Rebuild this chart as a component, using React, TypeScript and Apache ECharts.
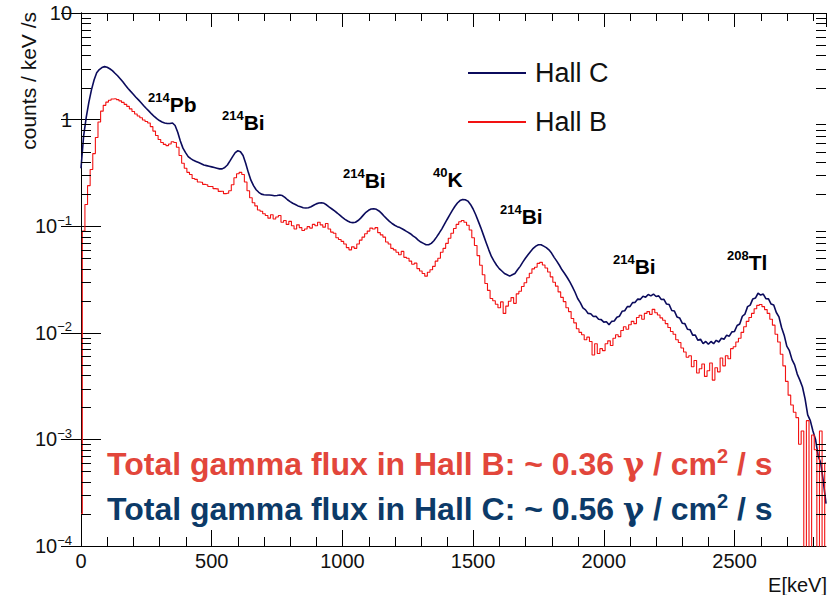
import { useEffect, useRef } from "react";
import * as echarts from "echarts";

// Gamma spectra, counts / keV / s, one value per 10 keV bin starting at 0 keV.
const BIN_KEV = 10;

const HALL_C: number[] = [
  0.35, 0.7, 1.05, 1.45, 1.9, 2.35, 2.75, 2.95, 3.08, 3.14,
  3.1, 3.0, 2.88, 2.72, 2.58, 2.42, 2.26, 2.1, 1.96, 1.84,
  1.73, 1.62, 1.53, 1.44, 1.35, 1.27, 1.2, 1.13, 1.07, 1.02,
  0.98, 0.95, 0.93, 0.92, 0.92, 0.93, 0.88, 0.76, 0.63, 0.54,
  0.49, 0.45, 0.43, 0.415, 0.405, 0.395, 0.385, 0.375, 0.37, 0.365,
  0.36, 0.355, 0.35, 0.345, 0.345, 0.355, 0.375, 0.41, 0.45, 0.49,
  0.51, 0.5, 0.46, 0.39, 0.32, 0.27, 0.24, 0.22, 0.208, 0.2,
  0.197, 0.196, 0.196, 0.195, 0.193, 0.194, 0.196, 0.194, 0.186, 0.177,
  0.17, 0.164, 0.16, 0.155, 0.152, 0.149, 0.148, 0.149, 0.152, 0.157,
  0.162, 0.165, 0.166, 0.164, 0.158, 0.151, 0.145, 0.139, 0.133, 0.127,
  0.121, 0.116, 0.112, 0.109, 0.108, 0.109, 0.113, 0.119, 0.127, 0.135,
  0.141, 0.145, 0.146, 0.144, 0.139, 0.132, 0.124, 0.117, 0.111, 0.106,
  0.102, 0.099, 0.097, 0.094, 0.091, 0.088, 0.085, 0.081, 0.078, 0.074,
  0.071, 0.069, 0.067, 0.067, 0.069, 0.073, 0.079, 0.086, 0.094, 0.104,
  0.115, 0.127, 0.14, 0.153, 0.165, 0.174, 0.178, 0.177, 0.172, 0.16,
  0.145, 0.128, 0.111, 0.096, 0.082, 0.07, 0.06, 0.052, 0.047, 0.043,
  0.04, 0.038, 0.036, 0.035, 0.034, 0.035, 0.036, 0.039, 0.042, 0.046,
  0.05, 0.054, 0.058, 0.062, 0.065, 0.067, 0.067, 0.065, 0.063, 0.06,
  0.056, 0.051, 0.047, 0.043, 0.039, 0.036, 0.033, 0.03, 0.027, 0.024,
  0.021, 0.0192, 0.0171, 0.0164, 0.0152, 0.0151, 0.0142, 0.0143, 0.0134, 0.0133,
  0.0126, 0.0127, 0.0119, 0.0128, 0.0129, 0.014, 0.0143, 0.0159, 0.0161, 0.0176,
  0.0176, 0.0192, 0.0193, 0.0207, 0.0206, 0.022, 0.0216, 0.0229, 0.0222, 0.0231,
  0.0219, 0.0222, 0.0205, 0.0206, 0.0186, 0.0184, 0.0162, 0.016, 0.0141, 0.0138,
  0.0123, 0.0122, 0.0108, 0.0107, 0.0095, 0.0095, 0.0085, 0.0087, 0.0079, 0.0083,
  0.0078, 0.0083, 0.0079, 0.0085, 0.0082, 0.0089, 0.0087, 0.0095, 0.0093, 0.0102,
  0.0103, 0.0117, 0.0121, 0.0143, 0.015, 0.0176, 0.0182, 0.0208, 0.0212, 0.0235,
  0.0226, 0.0231, 0.0209, 0.0208, 0.0186, 0.0182, 0.0155, 0.0141, 0.0112, 0.0095,
  0.0075, 0.0068, 0.0056, 0.005, 0.0041, 0.0036, 0.0031, 0.0024, 0.0017, 0.0015,
  0.0012, 0.001, 0.0007, 0.0006, 0.0004, 0.00025,
];

const HALL_B: number[] = [
  0.0002, 0.09, 0.16, 0.24, 0.34, 0.48, 0.68, 0.95, 1.2, 1.36,
  1.46, 1.52, 1.56, 1.57, 1.54, 1.5, 1.45, 1.39, 1.33, 1.26,
  1.19, 1.13, 1.08, 1.04, 0.99, 0.96, 0.93, 0.86, 0.78, 0.71,
  0.65, 0.61, 0.585, 0.57, 0.59, 0.62, 0.61, 0.55, 0.46, 0.39,
  0.35, 0.32, 0.305, 0.28, 0.275, 0.26, 0.258, 0.247, 0.245, 0.236,
  0.236, 0.225, 0.224, 0.212, 0.213, 0.202, 0.204, 0.215, 0.245, 0.285,
  0.31, 0.32, 0.305, 0.26, 0.215, 0.185, 0.166, 0.155, 0.142, 0.138,
  0.131, 0.126, 0.119, 0.128, 0.117, 0.122, 0.126, 0.109, 0.113, 0.104,
  0.111, 0.101, 0.094, 0.103, 0.097, 0.091, 0.094, 0.099, 0.096, 0.104,
  0.101, 0.109, 0.103, 0.098, 0.106, 0.094, 0.088, 0.086, 0.078, 0.075,
  0.072, 0.068, 0.063, 0.06, 0.064, 0.062, 0.068, 0.074, 0.079, 0.085,
  0.09, 0.096, 0.094, 0.097, 0.087, 0.083, 0.079, 0.071, 0.068, 0.062,
  0.06, 0.057, 0.054, 0.058, 0.051, 0.05, 0.047, 0.044, 0.045, 0.04,
  0.038, 0.036, 0.034, 0.037, 0.039, 0.042, 0.047, 0.05, 0.057, 0.062,
  0.069, 0.077, 0.086, 0.095, 0.104, 0.11, 0.113, 0.109, 0.102, 0.092,
  0.078, 0.066, 0.053, 0.043, 0.035, 0.029, 0.025, 0.021, 0.02, 0.0185,
  0.0172, 0.0195, 0.0152, 0.0178, 0.0198, 0.0214, 0.0189, 0.0232, 0.0245, 0.0272,
  0.0295, 0.0328, 0.0362, 0.0398, 0.0412, 0.0448, 0.0458, 0.0432, 0.0405, 0.0372,
  0.0335, 0.0298, 0.0274, 0.0242, 0.0215, 0.0196, 0.0172, 0.0158, 0.0136, 0.0124,
  0.0109, 0.0101, 0.0096, 0.0086, 0.0091, 0.0083, 0.0062, 0.0079, 0.0064, 0.0071,
  0.0068, 0.0079, 0.0084, 0.0076, 0.0089, 0.0096, 0.0092, 0.0105, 0.0114, 0.0108,
  0.0119, 0.0128, 0.0122, 0.0139, 0.0146, 0.0134, 0.0152, 0.0158, 0.0149, 0.0166,
  0.0154, 0.0147, 0.0138, 0.0131, 0.0122, 0.0112, 0.0103, 0.0097, 0.0086, 0.0081,
  0.0072, 0.0066, 0.0059, 0.0061, 0.0048, 0.0055, 0.0042, 0.0046, 0.0051, 0.0039,
  0.0044, 0.0052, 0.0036, 0.0047, 0.0043, 0.0058, 0.0049, 0.0061, 0.0057, 0.0071,
  0.0074, 0.0082, 0.0089, 0.0101, 0.0114, 0.0128, 0.0139, 0.0152, 0.0168, 0.0181,
  0.0184, 0.0176, 0.0165, 0.0152, 0.0134, 0.0118, 0.0097, 0.0082, 0.0063, 0.0049,
  0.0035, 0.0026, 0.0021, 0.0018, 0.0016, 0.0009, 0.0012, 0.00005, 0.0015, 0.00005,
  0.0011, 0.0008, 0.00005, 0.0012, 0.00005, 0.0006,
];

const SERIES_NAMES = ["Hall C", "Hall B"];

// Decade tick values of the count-rate axis.
const Y_DECADES = [1e-4, 1e-3, 1e-2, 1e-1, 1, 10];

// Isotope lines marked on the spectrum (mass number, element).
const PEAK_MASS = ["214", "214", "214", "40", "214", "214", "208"];
const PEAK_ELEMENT = ["Pb", "Bi", "Bi", "K", "Bi", "Bi", "Tl"];

// Total flux per hall, in gamma / cm^2 / s.
const FLUX_HALL = ["Hall B", "Hall C"];
const FLUX_VALUE = ["0.36", "0.56"];

const X_MIN = 0;
const X_MAX = 2850;
const Y_MIN = 1e-4;
const Y_MAX = 10;

// Layout (pixels)
const PEAK_LABEL_XY = [
  [148, 104], [222, 122], [343, 180], [433, 179], [500, 216], [613, 266], [727, 262],
];
const FLUX_LABEL_XY = [
  [107, 464], [107, 509],
];
const FLUX_COLORS = ["#e2463b", "#0c3a68"];
const HALL_C_COLOR = "#0b0b5c";
const HALL_B_COLOR = "#f21212";
const FONT = "'Liberation Sans', Arial, Helvetica, sans-serif";
const TICK_FONT = `20px ${FONT}`;
const EXP_FONT = `13px ${FONT}`;

const toPairs = (vals: number[]) => vals.map((v, i) => [i * BIN_KEV, v]);

// Decade label split into mantissa part and exponent ("10", "−2").
function decadeParts(v: number): [string, string] {
  const e = Math.round(Math.log10(v));
  if (e === 0) return ["1", ""];
  if (e === 1) return ["10", ""];
  return ["10", `\u2212${-e}`];
}

let measureCtx: CanvasRenderingContext2D | null = null;
function textWidth(text: string, font: string): number {
  if (!text) return 0;
  if (!measureCtx) measureCtx = document.createElement("canvas").getContext("2d");
  if (!measureCtx) return text.length * 7;
  measureCtx.font = font;
  return measureCtx.measureText(text).width;
}

// Frame decorations: kind 0 = minor y tick, 1 = minor x tick, 2 = y tick label.
const KIND_MINOR_Y = 0;
const KIND_MINOR_X = 1;
const KIND_Y_LABEL = 2;

export default function App() {
  const ref = useRef<HTMLDivElement>(null);

  useEffect(() => {
    if (!ref.current) return;
    const chart = echarts.init(ref.current, undefined, { renderer: "svg" });

    const frameItems: number[][] = [];
    for (let d = -4; d < 1; d++) {
      for (let k = 2; k <= 9; k++) frameItems.push([X_MIN, k * Math.pow(10, d), KIND_MINOR_Y]);
    }
    for (let e = 100; e < X_MAX; e += 100) {
      if (e % 500 !== 0) frameItems.push([e, 1, KIND_MINOR_X]);
    }
    Y_DECADES.forEach((v) => frameItems.push([X_MIN, v, KIND_Y_LABEL]));

    const axisLine = { show: true, lineStyle: { color: "#000", width: 1 } };

    const graphic: any[] = [
      {
        type: "text",
        x: 28,
        y: 12,
        rotation: Math.PI / 2,
        style: {
          text: "counts / keV /s",
          font: `21px ${FONT}`,
          fill: "#111",
          align: "right",
          verticalAlign: "middle",
        },
      },
      {
        type: "text",
        x: 827,
        y: 585,
        style: {
          text: "E[keV]",
          font: `20px ${FONT}`,
          fill: "#111",
          align: "right",
          verticalAlign: "middle",
        },
      },
    ];

    PEAK_MASS.forEach((mass, i) => {
      graphic.push({
        type: "text",
        x: PEAK_LABEL_XY[i][0],
        y: PEAK_LABEL_XY[i][1],
        style: {
          text: `{s|${mass}}{m|${PEAK_ELEMENT[i]}}`,
          align: "left",
          verticalAlign: "middle",
          fill: "#000",
          rich: {
            s: { fontSize: 13, fontWeight: "bold", fontFamily: FONT, lineHeight: 14, verticalAlign: "top", fill: "#000" },
            m: { fontSize: 21, fontWeight: "bold", fontFamily: FONT, lineHeight: 26, fill: "#000" },
          },
        },
      });
    });

    FLUX_HALL.forEach((hall, i) => {
      const c = FLUX_COLORS[i];
      graphic.push({
        type: "text",
        x: FLUX_LABEL_XY[i][0],
        y: FLUX_LABEL_XY[i][1],
        style: {
          text: `{t|Total gamma flux in ${hall}: ~ ${FLUX_VALUE[i]} }{g|\u03b3}{t| / cm}{s|2}{t| / s}`,
          align: "left",
          verticalAlign: "middle",
          rich: {
            t: { fontSize: 32, fontWeight: "bold", fontFamily: FONT, lineHeight: 36, fill: c },
            g: { fontSize: 32, fontWeight: "bold", fontFamily: "'DejaVu Serif', serif", lineHeight: 36, fill: c },
            s: { fontSize: 20, fontWeight: "bold", fontFamily: FONT, lineHeight: 18, verticalAlign: "top", fill: c },
          },
        },
      });
    });

    const yAxisBase = {
      type: "log",
      logBase: 10,
      min: Y_MIN,
      max: Y_MAX,
      splitNumber: 5,
      axisLine,
      axisTick: { show: true, inside: true, length: 20, lineStyle: { color: "#000" } },
      axisLabel: { show: false },
      splitLine: { show: false },
    };

    chart.setOption({
      animation: false,
      backgroundColor: "#fff",
      grid: {
        left: 81,
        top: 13,
        right: 8,
        bottom: 49,
        containLabel: false,
        outerBoundsMode: "none",
      },
      legend: {
        data: SERIES_NAMES,
        orient: "vertical",
        left: 463,
        top: 54,
        itemWidth: 58,
        itemHeight: 2,
        itemGap: 21,
        icon: "rect",
        selectedMode: false,
        textStyle: {
          fontSize: 27,
          fontFamily: FONT,
          color: "#111",
          lineHeight: 28,
          padding: [0, 0, 0, 4],
        },
      },
      xAxis: [
        {
          type: "value",
          min: X_MIN,
          max: X_MAX,
          interval: 500,
          position: "bottom",
          axisLine,
          axisTick: { show: true, inside: true, length: 16, lineStyle: { color: "#000" } },
          axisLabel: {
            show: true,
            showMaxLabel: false,
            fontSize: 20,
            fontFamily: FONT,
            color: "#111",
            margin: 5,
            formatter: (v: number) => String(v),
          },
          splitLine: { show: false },
        },
        {
          type: "value",
          min: X_MIN,
          max: X_MAX,
          interval: 500,
          position: "top",
          axisLine,
          axisTick: { show: true, inside: true, length: 14, lineStyle: { color: "#000" } },
          axisLabel: { show: false },
          splitLine: { show: false },
        },
      ],
      yAxis: [
        { ...yAxisBase, position: "left" },
        { ...yAxisBase, position: "right" },
      ],
      series: [
        {
          name: "Hall C",
          type: "line",
          data: toPairs(HALL_C),
          showSymbol: false,
          silent: true,
          color: HALL_C_COLOR,
          lineStyle: { color: HALL_C_COLOR, width: 1.6 },
          z: 3,
        },
        {
          name: "Hall B",
          type: "line",
          step: "middle",
          data: toPairs(HALL_B),
          showSymbol: false,
          silent: true,
          color: HALL_B_COLOR,
          lineStyle: { color: HALL_B_COLOR, width: 1.1 },
          z: 4,
        },
        {
          type: "custom",
          silent: true,
          clip: false,
          z: 5,
          data: frameItems,
          renderItem: (params: any, api: any) => {
            const cs = params.coordSys;
            const style = { stroke: "#000", lineWidth: 1 };
            const kind = api.value(2);
            if (kind === KIND_Y_LABEL) {
              const v = api.value(1);
              const y = api.coord([X_MIN, v])[1];
              const [mant, exp] = decadeParts(v);
              const right = cs.x - 9;
              const expW = textWidth(exp, EXP_FONT);
              const mantW = textWidth(mant, TICK_FONT);
              const left = right - expW - mantW;
              const children: any[] = [
                {
                  type: "text",
                  x: left,
                  y,
                  style: { text: mant, font: TICK_FONT, fill: "#111", align: "left", verticalAlign: "middle" },
                },
              ];
              if (exp) {
                children.push({
                  type: "text",
                  x: left + mantW,
                  y: y - 6,
                  style: { text: exp, font: EXP_FONT, fill: "#111", align: "left", verticalAlign: "middle" },
                });
              }
              return { type: "group", children };
            }
            if (kind === KIND_MINOR_Y) {
              const y = Math.round(api.coord([X_MIN, api.value(1)])[1]) + 0.5;
              return {
                type: "group",
                children: [
                  { type: "line", shape: { x1: cs.x, y1: y, x2: cs.x + 10, y2: y }, style },
                  { type: "line", shape: { x1: cs.x + cs.width - 10, y1: y, x2: cs.x + cs.width, y2: y }, style },
                ],
              };
            }
            const x = Math.round(api.coord([api.value(0), 1])[0]) + 0.5;
            return {
              type: "group",
              children: [
                { type: "line", shape: { x1: x, y1: cs.y + cs.height, x2: x, y2: cs.y + cs.height - 9 }, style },
                { type: "line", shape: { x1: x, y1: cs.y, x2: x, y2: cs.y + 8 }, style },
              ],
            };
          },
        },
      ],
      graphic,
    });

    return () => chart.dispose();
  }, []);

  return (
    <div
      ref={ref}
      style={{ position: "absolute", left: 0, top: 0, width: 834, height: 595, background: "#fff" }}
    />
  );
}
